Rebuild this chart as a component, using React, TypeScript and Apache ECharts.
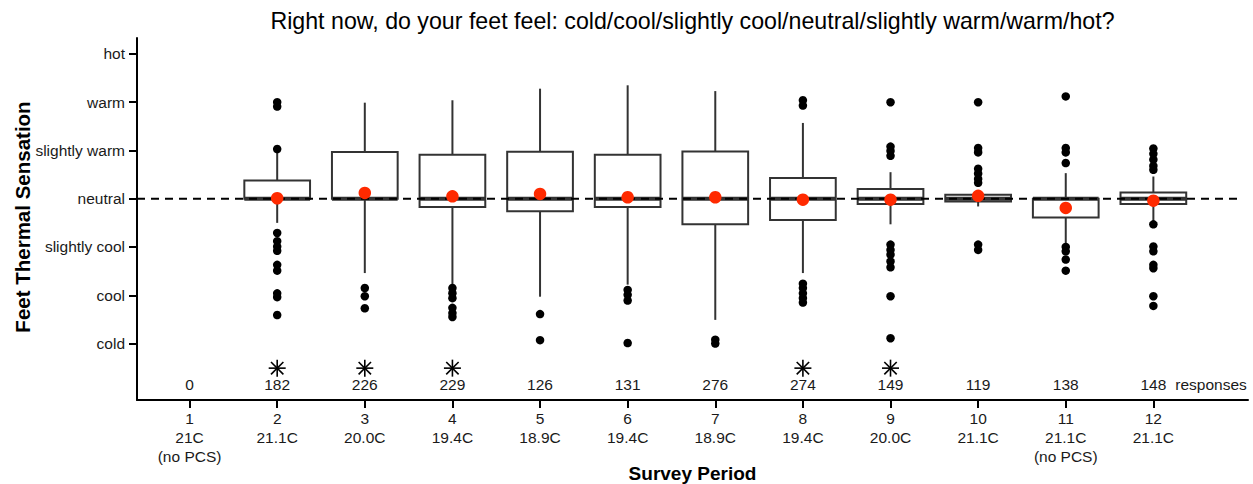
import React, { useEffect, useRef } from "react";
import * as echarts from "echarts";

// ---- data ----
const periods = [1, 2, 3, 4, 5, 6, 7, 8, 9, 10, 11, 12];
const periodLabels = [
  "1\n21C\n(no PCS)", "2\n21.1C", "3\n20.0C", "4\n19.4C", "5\n18.9C", "6\n19.4C",
  "7\n18.9C", "8\n19.4C", "9\n20.0C", "10\n21.1C", "11\n21.1C\n(no PCS)", "12\n21.1C",
];
const sensationValues = [-3, -2, -1, 0, 1, 2, 3];
const sensationLabels = ["cold", "cool", "slightly cool", "neutral", "slightly warm", "warm", "hot"];
const responses = [0, 182, 226, 229, 126, 131, 276, 274, 149, 119, 138, 148];
const significant = [false, true, true, true, false, false, false, true, true, false, false, false];

const lowerWhisker = [null, -0.5, -1.54, -1.78, -2.03, -1.78, -2.51, -1.54, -0.53, -0.16, -0.95, -0.5];
const q1 = [null, 0, 0, -0.17, -0.26, -0.17, -0.53, -0.44, -0.11, -0.06, -0.39, -0.11];
const median = [null, 0, 0, 0, 0, 0, 0, 0, 0, 0, 0, 0];
const q3 = [null, 0.38, 0.97, 0.91, 0.975, 0.91, 0.98, 0.43, 0.2, 0.08, 0, 0.13];
const upperWhisker = [null, 1.0, 1.99, 2.04, 2.28, 2.35, 2.23, 1.57, 0.55, 0.15, 0.53, 0.46];
const means = [null, 0.01, 0.12, 0.05, 0.1, 0.03, 0.03, -0.02, -0.02, 0.06, -0.19, -0.04];
const outliers: number[][] = [
  [],
  [2.0, 1.91, 1.03, -0.71, -0.88, -0.99, -1.08, -1.37, -1.49, -1.96, -2.04, -2.41],
  [-1.85, -2.02, -2.27],
  [-1.85, -1.96, -2.06, -2.26, -2.37, -2.45],
  [-2.39, -2.93],
  [-1.89, -1.99, -2.11, -2.99],
  [-2.92, -3.0],
  [2.04, 1.93, -1.76, -1.85, -1.96, -2.06, -2.15],
  [2.0, 1.08, 0.99, 0.89, -0.95, -1.06, -1.16, -1.3, -1.42, -2.02, -2.89],
  [2.0, 1.05, 0.96, 0.62, 0.52, 0.41, 0.33, -0.95, -1.06],
  [2.12, 1.05, 0.96, 0.74, -1.0, -1.09, -1.26, -1.49],
  [1.04, 0.93, 0.81, 0.68, 0.6, -0.53, -0.99, -1.09, -1.37, -1.44, -2.02, -2.22],
];

const FONT = "'Liberation Sans', Arial, Helvetica, sans-serif";
const BOX_W = 0.75;
const COUNT_Y = -3.85;
const STAR_Y = -3.51;

export default function App() {
  const ref = useRef<HTMLDivElement>(null);

  useEffect(() => {
    if (!ref.current) return;
    const chart = echarts.init(ref.current, null, { renderer: "svg" });

    const boxData: any[] = [];
    periods.forEach((p, i) => {
      if (q1[i] === null) return;
      boxData.push([p, lowerWhisker[i], q1[i], median[i], q3[i], upperWhisker[i]]);
    });
    const outlierData: number[][] = [];
    periods.forEach((p, i) => outliers[i].forEach((v) => outlierData.push([p, v])));
    const meanData: number[][] = [];
    periods.forEach((p, i) => {
      if (means[i] !== null) meanData.push([p, means[i] as number]);
    });
    const countData = periods.map((p, i) => [p, COUNT_Y, responses[i]]);
    const starData = periods.filter((_, i) => significant[i]).map((p) => [p, STAR_Y]);

    const stroke = "#333333";

    chart.setOption({
      animation: false,
      grid: { left: 137, right: 5, top: 38, bottom: 84, containLabel: false, outerBoundsMode: "none" },
      xAxis: {
        type: "value",
        min: 0.4,
        max: 13.08,
        splitLine: { show: false },
        axisLine: { show: true, onZero: false, lineStyle: { color: "#000", width: 2 } },
        axisTick: { show: true, length: 8, customValues: periods, lineStyle: { color: "#000", width: 2 } },
        axisLabel: {
          customValues: periods,
          formatter: (v: number) => periodLabels[Math.round(v) - 1] ?? "",
          fontFamily: FONT,
          fontSize: 15.5,
          lineHeight: 19,
          color: "#1a1a1a",
          margin: 9,
          verticalAlign: "top",
        },
      },
      yAxis: {
        type: "value",
        min: -4.17,
        max: 3.33,
        splitLine: { show: false },
        axisLine: { show: true, onZero: false, lineStyle: { color: "#000", width: 2 } },
        axisTick: { show: true, length: 8, customValues: sensationValues, lineStyle: { color: "#000", width: 2 } },
        axisLabel: {
          customValues: sensationValues,
          formatter: (v: number) => sensationLabels[Math.round(v) + 3] ?? "",
          fontFamily: FONT,
          fontSize: 15.5,
          color: "#1a1a1a",
          margin: 12,
        },
      },
      graphic: [
        {
          type: "text",
          x: 692.5,
          y: 21,
          style: {
            text: "Right now, do your feet feel: cold/cool/slightly cool/neutral/slightly warm/warm/hot?",
            font: `23.2px ${FONT}`,
            align: "center",
            verticalAlign: "middle",
            fill: "#000",
          },
        },
        {
          type: "text",
          x: 692.5,
          y: 473,
          style: {
            text: "Survey Period",
            font: `bold 19px ${FONT}`,
            align: "center",
            verticalAlign: "middle",
            fill: "#000",
          },
        },
        {
          type: "text",
          x: 22,
          y: 217,
          rotation: Math.PI / 2,
          style: {
            text: "Feet Thermal Sensation",
            font: `bold 20.5px ${FONT}`,
            align: "center",
            verticalAlign: "middle",
            fill: "#000",
          },
        },
      ],
      series: [
        {
          type: "custom",
          name: "box",
          data: boxData,
          z: 2,
          encode: { x: 0, y: [1, 2, 3, 4, 5] },
          renderItem: (params: any, api: any) => {
            const x = api.value(0);
            const lo = api.coord([x, api.value(1)]);
            const b1 = api.coord([x, api.value(2)]);
            const md = api.coord([x, api.value(3)]);
            const b3 = api.coord([x, api.value(4)]);
            const hi = api.coord([x, api.value(5)]);
            const hw = api.size([BOX_W, 0])[0] / 2;
            const cx = md[0];
            const ls = { stroke, lineWidth: 2 };
            return {
              type: "group",
              children: [
                { type: "line", shape: { x1: cx, y1: b3[1], x2: cx, y2: hi[1] }, style: ls },
                { type: "line", shape: { x1: cx, y1: b1[1], x2: cx, y2: lo[1] }, style: ls },
                {
                  type: "rect",
                  shape: { x: cx - hw, y: b3[1], width: hw * 2, height: Math.max(b1[1] - b3[1], 0.5) },
                  style: { fill: "#fff", stroke, lineWidth: 2 },
                },
                { type: "line", shape: { x1: cx - hw, y1: md[1], x2: cx + hw, y2: md[1] }, style: { stroke, lineWidth: 4 } },
              ],
            };
          },
        },
        {
          type: "scatter",
          name: "outliers",
          data: outlierData,
          symbol: "circle",
          symbolSize: 8.5,
          itemStyle: { color: "#000", opacity: 1 },
          z: 3,
        },
        {
          type: "line",
          name: "neutral",
          data: [[0.4, 0], [13.0, 0]],
          symbol: "none",
          lineStyle: { color: "#000", width: 2, type: [8, 6] },
          z: 4,
        },
        {
          type: "scatter",
          name: "mean",
          data: meanData,
          symbol: "circle",
          symbolSize: 12.5,
          itemStyle: { color: "#ff2a00", opacity: 1 },
          z: 5,
        },
        {
          type: "custom",
          name: "counts",
          data: countData,
          z: 5,
          renderItem: (params: any, api: any) => {
            const pt = api.coord([api.value(0), api.value(1)]);
            return {
              type: "text",
              x: pt[0],
              y: pt[1],
              style: {
                text: String(api.value(2)),
                font: `15.5px ${FONT}`,
                align: "center",
                verticalAlign: "middle",
                fill: "#1a1a1a",
              },
            };
          },
        },
        {
          type: "custom",
          name: "responsesLabel",
          data: [[12.25, COUNT_Y]],
          z: 5,
          renderItem: (params: any, api: any) => {
            const pt = api.coord([api.value(0), api.value(1)]);
            return {
              type: "text",
              x: pt[0],
              y: pt[1],
              style: {
                text: "responses",
                font: `15.5px ${FONT}`,
                align: "left",
                verticalAlign: "middle",
                fill: "#1a1a1a",
              },
            };
          },
        },
        {
          type: "custom",
          name: "significance",
          data: starData,
          z: 5,
          renderItem: (params: any, api: any) => {
            const pt = api.coord([api.value(0), api.value(1)]);
            const [cx, cy] = pt;
            const st = { stroke: "#000", lineWidth: 1.6 };
            const r = 8.5;
            const d = 6.2;
            return {
              type: "group",
              children: [
                { type: "line", shape: { x1: cx, y1: cy - r, x2: cx, y2: cy + r }, style: st },
                { type: "line", shape: { x1: cx - r, y1: cy, x2: cx + r, y2: cy }, style: st },
                { type: "line", shape: { x1: cx - d, y1: cy - d, x2: cx + d, y2: cy + d }, style: st },
                { type: "line", shape: { x1: cx - d, y1: cy + d, x2: cx + d, y2: cy - d }, style: st },
              ],
            };
          },
        },
      ],
    });

    return () => chart.dispose();
  }, []);

  return (
    <div
      ref={ref}
      style={{ position: "fixed", left: 0, top: 0, width: 1253, height: 484, background: "#fff" }}
    />
  );
}
